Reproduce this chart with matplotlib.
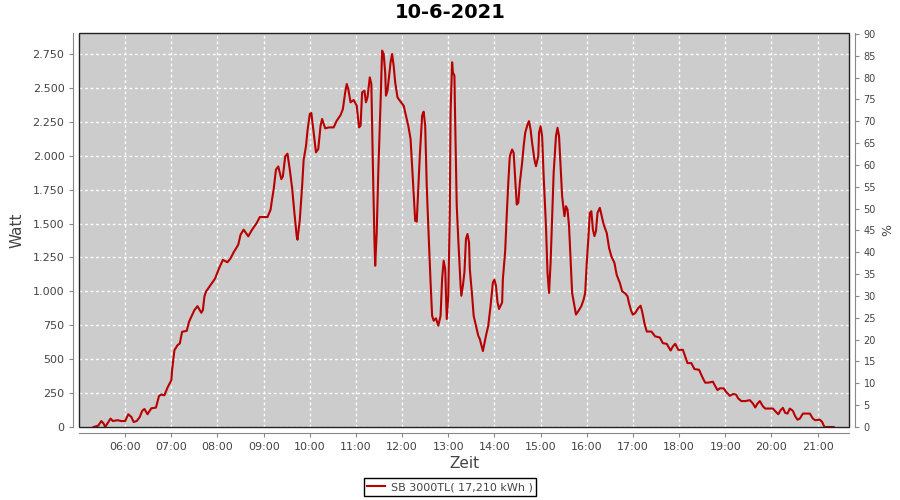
import matplotlib
matplotlib.use('Agg')
import matplotlib.pyplot as plt
import matplotlib.dates as mdates
from matplotlib.ticker import FuncFormatter, MultipleLocator
from matplotlib.patches import Rectangle
import pandas as pd

# Tagesverlauf SB 3000TL, 10-6-2021
day = '2021-06-10'
label = 'SB 3000TL( 17,210 kWh )'

times = [
    '05:19', '05:25', '05:29', '05:32', '05:34', '05:41', '05:44', '05:50', '05:55', '06:00',
    '06:04', '06:08', '06:11', '06:15', '06:19', '06:22', '06:25', '06:29', '06:34', '06:40',
    '06:44', '06:47', '06:51', '06:55', '07:00', '07:01', '07:04', '07:08', '07:11', '07:14',
    '07:20', '07:23', '07:26', '07:30', '07:34', '07:39', '07:41', '07:43', '07:45', '07:49',
    '07:54', '07:57', '08:02', '08:07', '08:13', '08:17', '08:21', '08:27', '08:30', '08:34',
    '08:40', '08:45', '08:51', '08:55', '09:00', '09:05', '09:09', '09:11', '09:13', '09:16',
    '09:19', '09:23', '09:25', '09:28', '09:31', '09:34', '09:37', '09:40', '09:43', '09:44',
    '09:47', '09:50', '09:52', '09:55', '09:57', '10:00', '10:02', '10:04', '10:06', '10:08',
    '10:11', '10:14', '10:16', '10:20', '10:25', '10:31', '10:35', '10:40', '10:43', '10:46',
    '10:48', '10:50', '10:53', '10:57', '11:01', '11:04', '11:06', '11:08', '11:11', '11:13',
    '11:15', '11:18', '11:20', '11:22', '11:24', '11:25', '11:27', '11:29', '11:32', '11:34',
    '11:36', '11:38', '11:39', '11:41', '11:45', '11:47', '11:49', '11:51', '11:54', '11:57',
    '12:02', '12:05', '12:08', '12:11', '12:13', '12:15', '12:17', '12:19', '12:21', '12:23',
    '12:26', '12:28', '12:30', '12:32', '12:34', '12:37', '12:39', '12:41', '12:44', '12:47',
    '12:50', '12:52', '12:54', '12:56', '12:58', '13:00', '13:02', '13:03', '13:05', '13:06',
    '13:08', '13:09', '13:11', '13:13', '13:16', '13:17', '13:19', '13:21', '13:23', '13:25',
    '13:27', '13:28', '13:31', '13:33', '13:36', '13:39', '13:41', '13:45', '13:49', '13:52',
    '13:55', '13:58', '14:00', '14:02', '14:04', '14:06', '14:10', '14:11', '14:14', '14:16',
    '14:18', '14:20', '14:23', '14:25', '14:27', '14:29', '14:31', '14:33', '14:36', '14:38',
    '14:40', '14:43', '14:45', '14:47', '14:49', '14:52', '14:54', '14:57', '14:58', '15:00',
    '15:02', '15:04', '15:07', '15:09', '15:11', '15:13', '15:15', '15:17', '15:20', '15:22',
    '15:24', '15:26', '15:28', '15:31', '15:33', '15:35', '15:37', '15:39', '15:41', '15:44',
    '15:46', '15:49', '15:53', '15:56', '15:58', '16:00', '16:02', '16:04', '16:06', '16:08',
    '16:10', '16:12', '16:14', '16:17', '16:19', '16:22', '16:26', '16:29', '16:32', '16:36',
    '16:39', '16:43', '16:46', '16:50', '16:53', '16:55', '16:58', '17:00', '17:03', '17:07',
    '17:10', '17:12', '17:15', '17:18', '17:24', '17:29', '17:35', '17:39', '17:44', '17:49',
    '17:52', '17:55', '17:59', '18:05', '18:08', '18:11', '18:16', '18:20', '18:26', '18:31',
    '18:34', '18:38', '18:44', '18:47', '18:50', '18:53', '18:58', '19:01', '19:06', '19:10',
    '19:14', '19:17', '19:21', '19:26', '19:32', '19:36', '19:39', '19:42', '19:45', '19:49',
    '19:52', '19:58', '20:02', '20:06', '20:09', '20:12', '20:15', '20:18', '20:21', '20:24',
    '20:28', '20:31', '20:34', '20:37', '20:41', '20:45', '20:50', '20:54', '20:57', '21:03',
    '21:06', '21:09', '21:21',
]

watt = [
    0, 10, 44, 25, 0, 62, 44, 50, 44, 44,
    94, 74, 37, 44, 74, 118, 133, 94, 138, 143,
    229, 239, 234, 290, 345, 419, 566, 603, 616, 702,
    709, 776, 813, 862, 891, 842, 862, 961, 998, 1030,
    1071, 1096, 1170, 1232, 1215, 1244, 1288, 1344, 1418, 1455,
    1406, 1455, 1504, 1548, 1548, 1548, 1602, 1681, 1750, 1897,
    1921, 1828, 1848, 1995, 2015, 1897, 1762, 1578, 1406, 1381,
    1528, 1774, 1970, 2069, 2185, 2308, 2315, 2222, 2123, 2025,
    2050, 2222, 2271, 2202, 2209, 2209, 2258, 2300, 2344, 2467,
    2529, 2492, 2394, 2411, 2369, 2209, 2222, 2467, 2480, 2394,
    2430, 2578, 2529, 1927, 1386, 1189, 1435, 1877, 2394, 2775,
    2750, 2615, 2443, 2480, 2689, 2750, 2664, 2541, 2430, 2406,
    2369, 2295, 2222, 2123, 1927, 1730, 1521, 1514, 1755, 2000,
    2295, 2325, 2222, 1779, 1484, 1066, 820, 784, 801, 747,
    820, 1091, 1226, 1165, 796, 968, 1582, 2320, 2689, 2615,
    2590, 2246, 1632, 1386, 1042, 968, 1042, 1140, 1386, 1423,
    1361, 1165, 968, 820, 747, 673, 648, 560, 673, 747,
    894, 1066, 1086, 1042, 919, 870, 919, 1091, 1300, 1560,
    1800, 1997, 2046, 2021, 1825, 1640, 1653, 1800, 1948, 2071,
    2169, 2230, 2255, 2193, 2095, 1972, 1923, 1997, 2169, 2218,
    2144, 1849, 1481, 1137, 989, 1210, 1554, 1874, 2144, 2206,
    2144, 1923, 1702, 1554, 1628, 1604, 1481, 1235, 989, 891,
    829, 854, 891, 940, 989, 1210, 1382, 1579, 1591, 1456,
    1407, 1444, 1579, 1616, 1567, 1493, 1430, 1321, 1259, 1210,
    1120, 1063, 1001, 985, 964, 912, 852, 828, 840, 877,
    894, 852, 766, 704, 704, 668, 660, 618, 613, 564,
    594, 613, 569, 569, 520, 471, 471, 427, 422, 359,
    327, 327, 334, 302, 272, 285, 285, 260, 230, 243,
    240, 210, 191, 191, 198, 173, 144, 173, 191, 153,
    136, 136, 136, 111, 94, 124, 141, 104, 99, 136,
    119, 79, 54, 62, 99, 99, 99, 62, 50, 54,
    37, 0, 0,
]

t = pd.to_datetime([day + ' ' + s for s in times])

fig = plt.figure(figsize=(9, 5), dpi=100)
ax = fig.add_axes([0.0878, 0.146, 0.8556, 0.788])
ax.set_facecolor('#cccccc')

ax.plot(t, watt, color='#b80000', lw=1.5, label=label, zorder=3)

ax.set_xlim(pd.Timestamp(day + ' 05:00'), pd.Timestamp(day + ' 21:41'))
ax.set_ylim(0, 2905)
ax.yaxis.set_major_locator(MultipleLocator(250))
ax.yaxis.set_major_formatter(FuncFormatter(lambda v, p: f'{int(v):,}'.replace(',', '.')))
ax.xaxis.set_major_locator(mdates.HourLocator(byhour=range(6, 22)))
ax.xaxis.set_major_formatter(mdates.DateFormatter('%H:%M'))
ax.grid(color='white', linestyle=(0, (2, 2)), lw=1)

for s in ['top', 'right']:
    ax.spines[s].set_visible(False)
for s in ['left', 'bottom']:
    ax.spines[s].set_position(('outward', 4))
    ax.spines[s].set_color('#888888')
ax.tick_params(direction='out', length=3, colors='#888888', labelcolor='#444444', labelsize=8)
ax.add_patch(Rectangle((0, 0), 1, 1, transform=ax.transAxes, fill=False,
                       edgecolor='#222222', lw=1, clip_on=False, zorder=5))

ax.set_xlabel('Zeit', fontsize=11, color='#444444', labelpad=3)
ax.set_ylabel('Watt', fontsize=11, color='#444444', labelpad=6)
fig.text(0.5, 0.975, '10-6-2021', fontsize=14, fontweight='bold', ha='center', va='center')

ax2 = ax.twinx()
ax2.set_ylim(0, 90.2)
ax2.yaxis.set_major_locator(MultipleLocator(5))
for s in ['top', 'left', 'bottom']:
    ax2.spines[s].set_visible(False)
ax2.spines['right'].set_position(('outward', 4))
ax2.spines['right'].set_color('#888888')
ax2.tick_params(direction='out', length=3, colors='#888888', labelcolor='#444444', labelsize=7)
ax2.set_ylabel('%', fontsize=9, color='#444444')

leg = fig.legend(loc='center', bbox_to_anchor=(0.5, 0.026), fontsize=8, fancybox=False,
                 edgecolor='black', framealpha=1, borderpad=0.35, handlelength=1.6,
                 handletextpad=0.5)
for txt in leg.get_texts():
    txt.set_color('#444444')

plt.savefig('out.png', dpi=100)
